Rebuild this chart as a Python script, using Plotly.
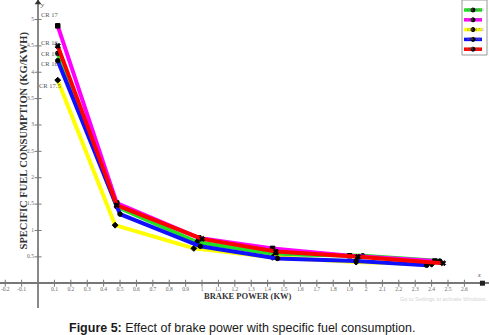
import plotly.graph_objects as go

# ---- data ----
series_names = ["CR 16.5", "CR 17", "CR 17.5", "CR 16", "CR 15"]
series_colors = ["#22e022", "#ff00ff", "#ffff00", "#1010ff", "#ff0000"]
series_symbols = ["circle", "square", "diamond", "circle", "x"]

x_cr165 = [0.12, 0.48, 0.97, 1.45, 1.98, 2.45]
y_cr165 = [4.36, 1.45, 0.78, 0.55, 0.52, 0.42]

x_cr17 = [0.12, 0.48, 0.98, 1.43, 1.90, 2.42]
y_cr17 = [4.88, 1.52, 0.86, 0.66, 0.52, 0.42]

x_cr175 = [0.12, 0.47, 0.95, 1.43, 1.94, 2.40]
y_cr175 = [3.85, 1.10, 0.66, 0.49, 0.40, 0.36]

x_cr16 = [0.12, 0.50, 0.99, 1.46, 1.94, 2.37]
y_cr16 = [4.22, 1.31, 0.70, 0.47, 0.42, 0.34]

x_cr15 = [0.12, 0.48, 1.00, 1.45, 1.95, 2.47]
y_cr15 = [4.50, 1.48, 0.84, 0.60, 0.50, 0.38]

xs = [x_cr165, x_cr17, x_cr175, x_cr16, x_cr15]
ys = [y_cr165, y_cr17, y_cr175, y_cr16, y_cr15]

x_ticks = [-0.2, -0.1, 0.1, 0.2, 0.3, 0.4, 0.5, 0.6, 0.7, 0.8, 0.9, 1.0, 1.1, 1.2, 1.3,
           1.4, 1.5, 1.6, 1.7, 1.8, 1.9, 2.0, 2.1, 2.2, 2.3, 2.4, 2.5, 2.6]
x_tick_labels = ["-0.2", "-0.1", "0.1", "0.2", "0.3", "0.4", "0.5", "0.6", "0.7", "0.8", "0.9",
                 "1", "1.1", "1.2", "1.3", "1.4", "1.5", "1.6", "1.7", "1.8", "1.9", "2",
                 "2.1", "2.2", "2.3", "2.4", "2.5", "2.6"]
y_ticks = [0.5, 1.0, 1.5, 2.0, 2.5, 3.0, 3.5, 4.0, 4.5, 5.0]
y_tick_labels = ["0.5", "1", "1.5", "2", "2.5", "3", "3.5", "4", "4.5", "5"]

# labels written next to the first points
cr_labels = ["CR 17", "CR 16", "CR 15", "CR 16", "CR 17.5"]
cr_label_x = [0.075, 0.075, 0.07, 0.075, 0.07]
cr_label_y = [5.09, 4.57, 4.35, 4.17, 3.74]

X_RANGE = [-0.232, 2.75]
Y_RANGE = [-0.47, 5.37]

W, H = 489, 335
MB = 27
PH = H - MB

serif = "Liberation Serif, Times New Roman, serif"

fig = go.Figure()

for name, col, sym, xv, yv in zip(series_names, series_colors, series_symbols, xs, ys):
    fig.add_trace(go.Scatter(
        x=xv, y=yv, mode="lines+markers", name=name,
        line=dict(color=col, width=4),
        marker=dict(color="black", size=4.5, symbol=sym,
                    line=dict(color="black", width=1)),
        showlegend=False, hoverinfo="skip"))

# tick marks and labels on the axis lines
fig.add_trace(go.Scatter(
    x=x_ticks, y=[0] * len(x_ticks), mode="markers+text",
    text=x_tick_labels, textposition="bottom center",
    textfont=dict(family=serif, size=5.5, color="#666"),
    marker=dict(symbol="line-ns-open", size=5, color="#777", line=dict(color="#777", width=1)),
    showlegend=False, hoverinfo="skip", cliponaxis=False))
fig.add_trace(go.Scatter(
    x=[0] * len(y_ticks), y=y_ticks, mode="markers+text",
    text=y_tick_labels, textposition="middle left",
    textfont=dict(family=serif, size=5.5, color="#666"),
    marker=dict(symbol="line-ew-open", size=5, color="#777", line=dict(color="#777", width=1)),
    showlegend=False, hoverinfo="skip", cliponaxis=False))

# axis end markers
fig.add_trace(go.Scatter(
    x=[0], y=[5.32], mode="markers",
    marker=dict(symbol="triangle-up", size=6, color="#333"),
    showlegend=False, hoverinfo="skip", cliponaxis=False))
fig.add_trace(go.Scatter(
    x=[2.71], y=[0], mode="markers",
    marker=dict(symbol="square", size=5, color="#222"),
    showlegend=False, hoverinfo="skip", cliponaxis=False))

annotations = []
for t, lx, ly in zip(cr_labels, cr_label_x, cr_label_y):
    annotations.append(dict(x=lx, y=ly, xref="x", yref="y", text=t, showarrow=False,
                            font=dict(family=serif, size=6.5, color="#555")))

annotations += [
    dict(x=0.03, y=5.27, xref="x", yref="y", text="<i>y</i>", showarrow=False,
         font=dict(family=serif, size=7, color="#444")),
    dict(x=2.69, y=0.16, xref="x", yref="y", text="<i>x</i>", showarrow=False,
         font=dict(family=serif, size=6, color="#444")),
    dict(x=-0.085, y=2.71, xref="x", yref="y", text="<b>SPECIFIC FUEL CONSUMPTION (KG/KWH)</b>",
         textangle=-90, showarrow=False, font=dict(family=serif, size=10.5, color="#333")),
    dict(x=1.28, y=-0.25, xref="x", yref="y", text="<b>BRAKE POWER (KW)</b>",
         showarrow=False, font=dict(family=serif, size=8.5, color="#333")),
    dict(x=2.47, y=-0.29, xref="x", yref="y", text="Go to Settings to activate Windows.",
         showarrow=False, font=dict(family="Liberation Sans, Arial, sans-serif", size=5.5, color="#d4d4d4")),
    dict(x=0.495, y=(PH - 328) / PH, xref="paper", yref="paper",
         text="<b>Figure 5:</b> Effect of brake power with specific fuel consumption.",
         showarrow=False, yanchor="middle",
         font=dict(family="Liberation Sans, Arial, sans-serif", size=12.5, color="#1a1a1a")),
]

# hand-drawn style legend box at top right
shapes = []
def px2x(p):
    return p / W
def py2y(p):
    return 1 - p / PH

shapes.append(dict(type="rect", xref="paper", yref="paper",
                   x0=px2x(462), x1=px2x(487), y0=py2y(55), y1=py2y(0),
                   line=dict(color="#999", width=1), fillcolor="white", layer="above"))
for i, (name, col) in enumerate(zip(series_names, series_colors)):
    cy = 10 + i * 9.8
    shapes.append(dict(type="line", xref="paper", yref="paper",
                       x0=px2x(464), x1=px2x(482), y0=py2y(cy), y1=py2y(cy),
                       line=dict(color=col, width=3.5), layer="above"))
    shapes.append(dict(type="circle", xref="paper", yref="paper",
                       x0=px2x(471), x1=px2x(475), y0=py2y(cy + 2), y1=py2y(cy - 2),
                       line=dict(color="black", width=1), fillcolor="black", layer="above"))
    annotations.append(dict(x=px2x(465), y=py2y(cy - 5), xref="paper", yref="paper",
                            text=name, showarrow=False, xanchor="left",
                            font=dict(family=serif, size=5, color="#777")))

fig.update_layout(
    width=W, height=H,
    margin=dict(l=0, r=0, t=0, b=MB),
    paper_bgcolor="white", plot_bgcolor="white",
    xaxis=dict(range=X_RANGE, showgrid=False, showticklabels=False, ticks="",
               zeroline=True, zerolinecolor="#888", zerolinewidth=1.5, fixedrange=True),
    yaxis=dict(range=Y_RANGE, showgrid=False, showticklabels=False, ticks="",
               zeroline=True, zerolinecolor="#777", zerolinewidth=2, fixedrange=True),
    annotations=annotations,
    shapes=shapes,
    showlegend=False,
)

fig.write_html("out.html", config={"displayModeBar": False, "staticPlot": True},
               post_script="document.body.style.margin='0';document.body.style.overflow='hidden';")
